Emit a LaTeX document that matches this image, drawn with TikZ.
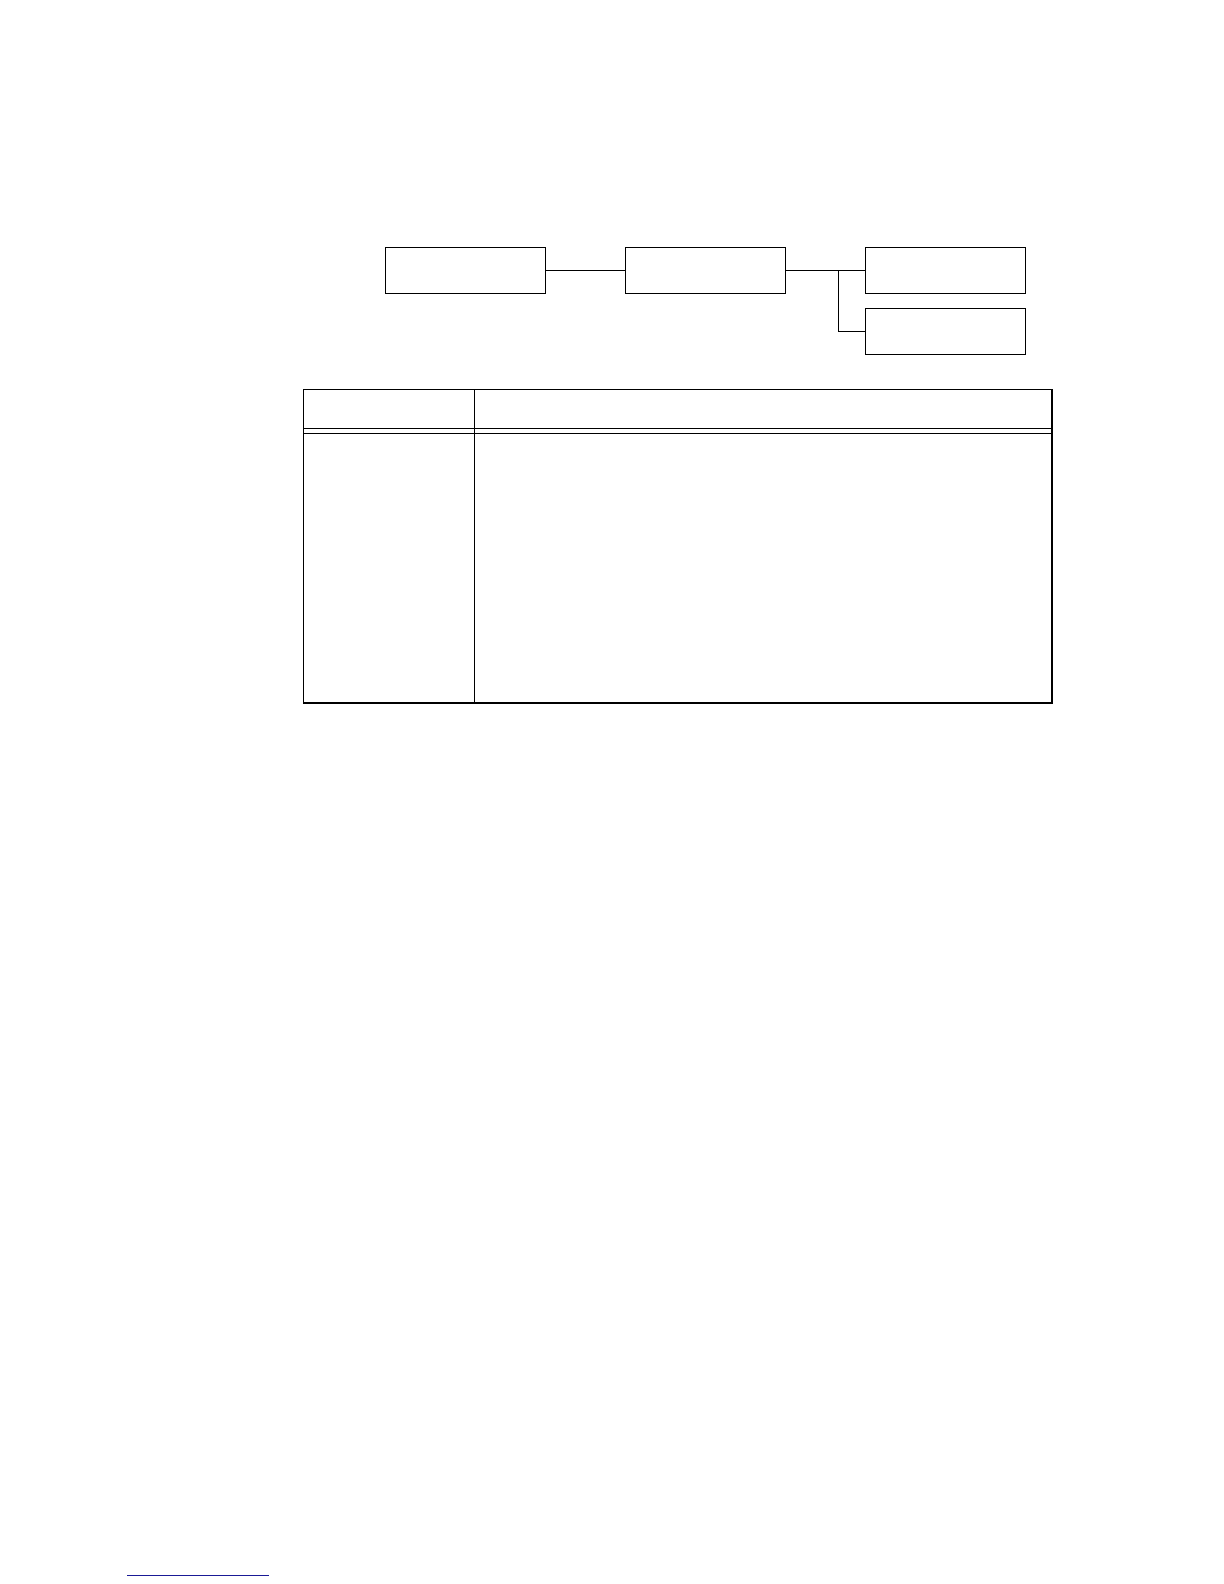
\documentclass[tikz,border=0pt]{standalone}
\usepackage{tikz}
\usetikzlibrary{positioning}

\definecolor{rulenavy}{RGB}{26,26,150}

\tikzset{
  unitbox/.style = {draw, black, line width = 0.6pt, minimum width = 80pt,
                    minimum height = 23pt, inner sep = 0pt},
  wire/.style    = {black, line width = 0.6pt}
}

\begin{document}
\begin{tikzpicture} [x = 1pt, y = 1pt]
\useasboundingbox[fill = white] (0.0, 0.0) rectangle (612.0, 792.0);
% boxes of the tree
\node[unitbox] (root)  at (232.7, 656.8){};
\node[unitbox] (mid)   at (352.7, 656.8){};
\node[unitbox] (upper) at (472.7, 656.8){};
\node[unitbox] (lower) at (472.7, 626.2){};
\coordinate (fork) at (419.2, 656.8);
\draw[wire] (root.east) -- (mid.west);
\draw[wire] (mid.east) -- (upper.west);
\draw[wire] (fork) |- (lower.west);
% table
\draw[wire] (151.7, 440.5) rectangle (526.0, 597.3);
\draw[wire] (237.2, 440.5) -- (237.2, 597.3);
\draw[wire] (151.7, 577.7) -- (526.0, 577.7);
\draw[wire] (151.7, 575.3) -- (526.0, 575.3);
% footnote rule
\draw[rulenavy, line width = 0.6pt] (63.7, 4.35) -- (134.5, 4.35);
\end{tikzpicture}
\end{document}
